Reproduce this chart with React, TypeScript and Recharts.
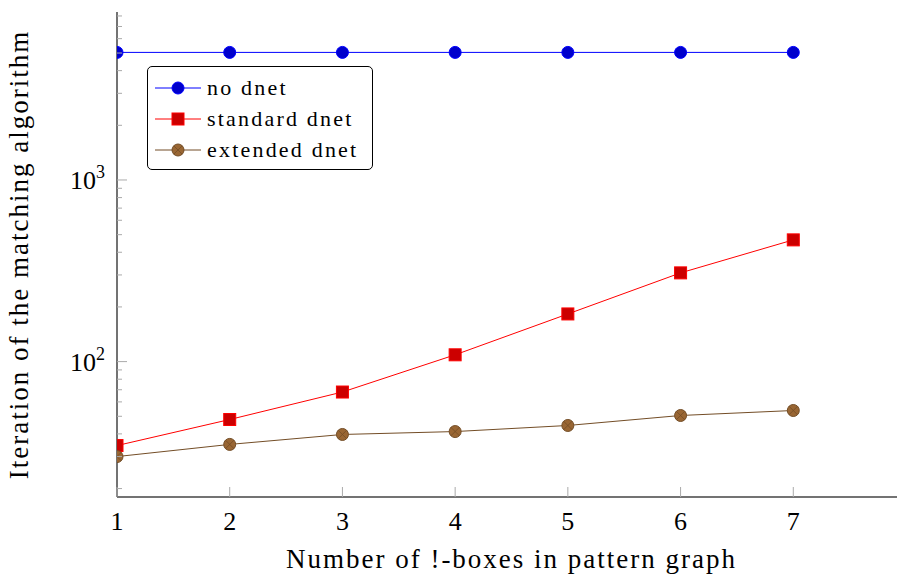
import React from "react";
import { LineChart, Line, XAxis, YAxis, Legend } from "recharts";

const boxes = [1, 2, 3, 4, 5, 6, 7];
const noDnet = [5040, 5040, 5040, 5040, 5040, 5040, 5040];
const standardDnet = [34.5, 48, 68, 109, 183, 308, 468];
const extendedDnet = [30, 35, 39.7, 41.2, 44.5, 50.5, 53.8];

const xTicks = [1, 2, 3, 4, 5, 6, 7];
const majorY = [100, 1000];
const minorY = [20, 30, 40, 50, 60, 70, 80, 90, 200, 300, 400, 500, 600, 700, 800, 900, 2000, 3000, 4000, 5000, 6000, 7000, 8000];

const data = boxes.map((b, i) => ({
  x: b,
  noDnet: noDnet[i],
  standardDnet: standardDnet[i],
  extendedDnet: extendedDnet[i],
}));

const FONT = "'Liberation Serif', 'DejaVu Serif', serif";
const W = 910;
const H = 577;
const XH = 80;
const YW = 117;
const M = { top: 12, right: 4, bottom: 0, left: 0 };
const PLOT_LEFT = M.left + YW;
const PLOT_RIGHT = W - M.right;
const PLOT_TOP = M.top;
const PLOT_BOTTOM = H - M.bottom - XH;
const TICK_COLOR = "#aaaaaa";
const yDomain = [17.97, 8412];
const allY = [...majorY, ...minorY].sort((a, b) => a - b);

const series = [
  { key: "noDnet", name: "no dnet", color: "#0000ff", fill: "#0000cc", mark: "circle" },
  { key: "standardDnet", name: "standard dnet", color: "#ff0000", fill: "#cc0000", mark: "square" },
  { key: "extendedDnet", name: "extended dnet", color: "#734d26", fill: "#996633", mark: "otimes" },
];

function Mark({ cx, cy, mark, color, fill }: any) {
  if (cx == null || cy == null) return null;
  if (mark === "square") {
    return <rect x={cx - 6} y={cy - 6} width={12} height={12} fill={fill} stroke={color} strokeWidth={1} />;
  }
  if (mark === "otimes") {
    const d = 6 * 0.7071;
    return (
      <g>
        <circle cx={cx} cy={cy} r={6} fill={fill} stroke={color} strokeWidth={1} />
        <line x1={cx - d} y1={cy - d} x2={cx + d} y2={cy + d} stroke={color} strokeWidth={0.8} />
        <line x1={cx - d} y1={cy + d} x2={cx + d} y2={cy - d} stroke={color} strokeWidth={0.8} />
      </g>
    );
  }
  return <circle cx={cx} cy={cy} r={6} fill={fill} stroke={color} strokeWidth={1} />;
}

function LeftTick({ y, payload }: any) {
  const v = payload.value;
  const major = majorY.includes(v);
  const len = major ? 10 : 5;
  const exp = Math.round(Math.log10(v));
  return (
    <g>
      <line x1={PLOT_LEFT} x2={PLOT_LEFT + len} y1={y} y2={y} stroke={TICK_COLOR} strokeWidth={1} />
      {major && (
        <text x={PLOT_LEFT - 12} y={y + 9} textAnchor="end" fontFamily={FONT} fontSize={26} fill="#000">
          10<tspan dy={-11} fontSize={18}>{exp}</tspan>
        </text>
      )}
    </g>
  );
}

function RightTick({ y, payload }: any) {
  const len = majorY.includes(payload.value) ? 10 : 5;
  return <line x1={PLOT_RIGHT} x2={PLOT_RIGHT - len} y1={y} y2={y} stroke={TICK_COLOR} strokeWidth={1} />;
}

function BottomTick({ x, payload }: any) {
  return (
    <g>
      <line x1={x} x2={x} y1={PLOT_BOTTOM} y2={PLOT_BOTTOM - 10} stroke={TICK_COLOR} strokeWidth={1} />
      <text x={x} y={PLOT_BOTTOM + 33} textAnchor="middle" fontFamily={FONT} fontSize={26} fill="#000">
        {payload.value}
      </text>
    </g>
  );
}

function TopTick({ x }: any) {
  return <line x1={x} x2={x} y1={PLOT_TOP} y2={PLOT_TOP + 10} stroke={TICK_COLOR} strokeWidth={1} />;
}

function LegendBox() {
  return (
    <div
      style={{
        border: "1px solid #000",
        borderRadius: 5,
        background: "#fff",
        padding: "5px 14px 4px 7px",
        fontFamily: FONT,
        fontSize: 22,
        letterSpacing: 2.2,
        lineHeight: "31px",
      }}
    >
      {series.map((s) => (
        <div key={s.key} style={{ display: "flex", alignItems: "center", whiteSpace: "nowrap" }}>
          <svg width={46} height={20} style={{ marginRight: 6 }}>
            <line x1={0} x2={46} y1={10} y2={10} stroke={s.color} strokeWidth={1} />
            <Mark cx={23} cy={10} mark={s.mark} color={s.color} fill={s.fill} />
          </svg>
          <span>{s.name}</span>
        </div>
      ))}
    </div>
  );
}

export default function App() {
  return (
    <div style={{ position: "absolute", left: 0, top: 0, width: 897, height: 577, overflow: "hidden", background: "#fff" }}>
      <LineChart width={W} height={H} data={data} margin={M}>
        <XAxis
          dataKey="x"
          type="number"
          domain={[1, 8]}
          ticks={xTicks}
          allowDataOverflow
          height={XH}
          axisLine={{ stroke: "#444", strokeWidth: 1.5 }}
          tickLine={false}
          tick={<BottomTick />}
          label={{
            value: "Number of !-boxes in pattern graph",
            position: "insideBottom",
            offset: 9,
            fontFamily: FONT,
            fontSize: 27,
            letterSpacing: 2,
            fill: "#000",
          }}
        />
        <XAxis
          xAxisId="top"
          orientation="top"
          dataKey="x"
          type="number"
          domain={[1, 8]}
          ticks={xTicks}
          allowDataOverflow
          height={0}
          axisLine={{ stroke: "#000", strokeWidth: 1.5 }}
          tickLine={false}
          tick={<TopTick />}
        />
        <YAxis
          scale="log"
          type="number"
          domain={yDomain}
          ticks={allY}
          allowDataOverflow
          width={YW}
          axisLine={{ stroke: "#444", strokeWidth: 1.5 }}
          tickLine={false}
          tick={<LeftTick />}
          interval={0}
          label={{
            value: "Iteration of the matching algorithm",
            angle: -90,
            position: "insideLeft",
            offset: 18,
            style: { textAnchor: "middle" },
            fontFamily: FONT,
            fontSize: 27,
            letterSpacing: 2,
            fill: "#000",
          }}
        />
        <YAxis
          yAxisId="right"
          orientation="right"
          scale="log"
          type="number"
          domain={yDomain}
          ticks={allY}
          allowDataOverflow
          width={0}
          axisLine={{ stroke: "#000" }}
          tickLine={false}
          tick={<RightTick />}
          interval={0}
        />
        <Legend
          layout="horizontal"
          verticalAlign="middle"
          align="center"
          content={() => <LegendBox />}
          wrapperStyle={{ position: "absolute", left: 147, top: 66, width: "auto", height: "auto" }}
        />
        {series.map((s) => (
          <Line
            key={s.key}
            dataKey={s.key}
            name={s.name}
            stroke={s.color}
            strokeWidth={1}
            isAnimationActive={false}
            dot={(p: any) => <Mark key={`${s.key}-${p.index}`} cx={p.cx} cy={p.cy} mark={s.mark} color={s.color} fill={s.fill} />}
          />
        ))}
      </LineChart>
    </div>
  );
}
